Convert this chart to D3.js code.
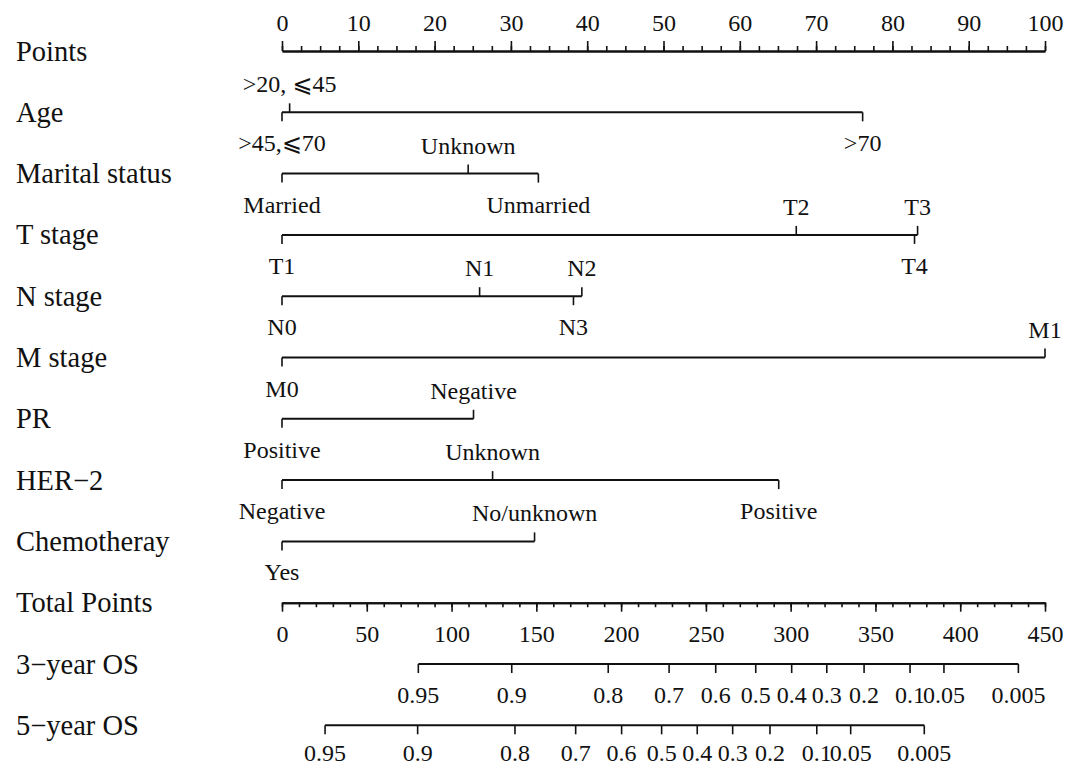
<!DOCTYPE html>
<html>
<head>
<meta charset="utf-8">
<script src="https://cdn.jsdelivr.net/npm/d3@7"></script>
<style>
  html, body { margin: 0; padding: 0; background: #fff; }
  svg text { font-family: "Liberation Serif", "Times New Roman", "DejaVu Serif", "DejaVu Sans", serif; fill: #111; }
</style>
</head>
<body>
<div id="chart"></div>
<script>
// ---------- data ----------
const rowNames = ["Points", "Age", "Marital status", "T stage", "N stage", "M stage",
  "PR", "HER\u22122", "Chemotheray", "Total Points", "3\u2212year OS", "5\u2212year OS"];

const ageLevels = [">20, \u2a7d45", ">45,\u2a7d70", ">70"];
const agePoints = [1, 0, 76.1];
const maritalLevels = ["Married", "Unknown", "Unmarried"];
const maritalPoints = [0, 24.4, 33.6];
const tLevels = ["T1", "T2", "T3", "T4"];
const tPoints = [0, 67.4, 83.3, 82.9];
const nLevels = ["N0", "N1", "N2", "N3"];
const nPoints = [0, 25.9, 39.3, 38.2];
const mLevels = ["M0", "M1"];
const mPoints = [0, 100];
const prLevels = ["Positive", "Negative"];
const prPoints = [0, 25.1];
const her2Levels = ["Negative", "Unknown", "Positive"];
const her2Points = [0, 27.6, 65.1];
const chemoLevels = ["Yes", "No/unknown"];
const chemoPoints = [0, 33.1];

const osLabels = ["0.95", "0.9", "0.8", "0.7", "0.6", "0.5", "0.4", "0.3", "0.2", "0.1", "0.05", "0.005"];
const os3Points = [80.4, 135.5, 192.4, 228.3, 255.8, 279.4, 300.6, 321.3, 343.3, 370.4, 390.4, 434.3];
const os5Points = [25.4, 80.0, 137.4, 173.2, 200.3, 223.9, 244.9, 265.8, 287.8, 315.4, 335.4, 378.8];

// ---------- layout ----------
const W = 1076, H = 767;
const x0 = 282, x1 = 1045;
const rowY = i => 51 + i * 61.3;
const labelSize = 24, nameSize = 28.5;
const aboveBase = -20, belowBase = 39;
const tickLen = 9;

const svg = d3.select("#chart").append("svg").attr("width", W).attr("height", H);

const xPts = d3.scaleLinear().domain([0, 100]).range([x0, x1]);
const xTot = d3.scaleLinear().domain([0, 450]).range([x0, x1]);

// row names
svg.selectAll("text.name").data(rowNames).join("text")
  .attr("class", "name")
  .attr("x", 16)
  .attr("y", (d, i) => rowY(i) + 9.5)
  .attr("font-size", nameSize)
  .text(d => d);

function styleAxis(g) {
  g.select(".domain").attr("stroke", "#111").attr("stroke-width", 2);
  g.selectAll(".tick line").attr("stroke", "#111").attr("stroke-width", 1.6);
}

// Points axis (top)
{
  const y = rowY(0);
  const gMinor = svg.append("g").attr("transform", `translate(0,${y})`)
    .call(d3.axisTop(xPts).tickValues(d3.range(0, 100.01, 2.5)).tickSize(5).tickSizeOuter(0).tickFormat(""));
  styleAxis(gMinor);
  const gMajor = svg.append("g").attr("transform", `translate(0,${y})`)
    .call(d3.axisTop(xPts).tickValues(d3.range(0, 101, 10)).tickSize(10).tickSizeOuter(0));
  styleAxis(gMajor);
  gMajor.selectAll(".tick text")
    .attr("y", aboveBase).attr("dy", null)
    .attr("font-size", labelSize).attr("font-family", null).attr("fill", "#111");
}

// Total points axis (bottom)
{
  const y = rowY(9);
  const gMinor = svg.append("g").attr("transform", `translate(0,${y})`)
    .call(d3.axisBottom(xTot).tickValues(d3.range(0, 451, 10)).tickSize(4.5).tickSizeOuter(0).tickFormat(""));
  styleAxis(gMinor);
  const gMajor = svg.append("g").attr("transform", `translate(0,${y})`)
    .call(d3.axisBottom(xTot).tickValues(d3.range(0, 451, 50)).tickSize(9).tickSizeOuter(0));
  styleAxis(gMajor);
  gMajor.selectAll(".tick text")
    .attr("y", belowBase).attr("dy", null)
    .attr("font-size", labelSize).attr("font-family", null).attr("fill", "#111");
}

// categorical rows
const catRows = [
  { levels: ageLevels, pts: agePoints, side: ["up", "down", "down"] },
  { levels: maritalLevels, pts: maritalPoints, side: ["down", "up", "down"] },
  { levels: tLevels, pts: tPoints, side: ["down", "up", "up", "down"] },
  { levels: nLevels, pts: nPoints, side: ["down", "up", "up", "down"] },
  { levels: mLevels, pts: mPoints, side: ["down", "up"] },
  { levels: prLevels, pts: prPoints, side: ["down", "up"] },
  { levels: her2Levels, pts: her2Points, side: ["down", "up", "down"] },
  { levels: chemoLevels, pts: chemoPoints, side: ["down", "up"] }
];

catRows.forEach((row, r) => {
  const y = rowY(r + 1);
  const g = svg.append("g").attr("transform", `translate(0,${y})`);
  const [lo, hi] = d3.extent(row.pts);
  g.append("line")
    .attr("x1", xPts(lo)).attr("x2", xPts(hi))
    .attr("y1", 0).attr("y2", 0)
    .attr("stroke", "#111").attr("stroke-width", 2);
  const items = row.levels.map((l, i) => ({ label: l, p: row.pts[i], side: row.side[i] }));
  g.selectAll("line.tk").data(items).join("line")
    .attr("class", "tk")
    .attr("x1", d => xPts(d.p)).attr("x2", d => xPts(d.p))
    .attr("y1", 0).attr("y2", d => d.side === "up" ? -tickLen : tickLen)
    .attr("stroke", "#111").attr("stroke-width", 1.6);
  g.selectAll("text").data(items).join("text")
    .attr("x", d => xPts(d.p))
    .attr("y", d => d.side === "up" ? aboveBase : belowBase)
    .attr("text-anchor", "middle")
    .attr("font-size", labelSize)
    .text(d => d.label);
});

// OS rows
[[os3Points, 10, belowBase], [os5Points, 11, 35.5]].forEach(([pts, r, base]) => {
  const y = rowY(r);
  const g = svg.append("g").attr("transform", `translate(0,${y})`);
  const [lo, hi] = d3.extent(pts);
  g.append("line")
    .attr("x1", xTot(lo)).attr("x2", xTot(hi))
    .attr("y1", 0).attr("y2", 0)
    .attr("stroke", "#111").attr("stroke-width", 2);
  const items = osLabels.map((l, i) => ({ label: l, p: pts[i] }));
  g.selectAll("line.tk").data(items).join("line")
    .attr("class", "tk")
    .attr("x1", d => xTot(d.p)).attr("x2", d => xTot(d.p))
    .attr("y1", 0).attr("y2", tickLen)
    .attr("stroke", "#111").attr("stroke-width", 1.6);
  g.selectAll("text").data(items).join("text")
    .attr("x", d => xTot(d.p))
    .attr("y", base)
    .attr("text-anchor", "middle")
    .attr("font-size", labelSize)
    .text(d => d.label);
});
</script>
</body>
</html>
